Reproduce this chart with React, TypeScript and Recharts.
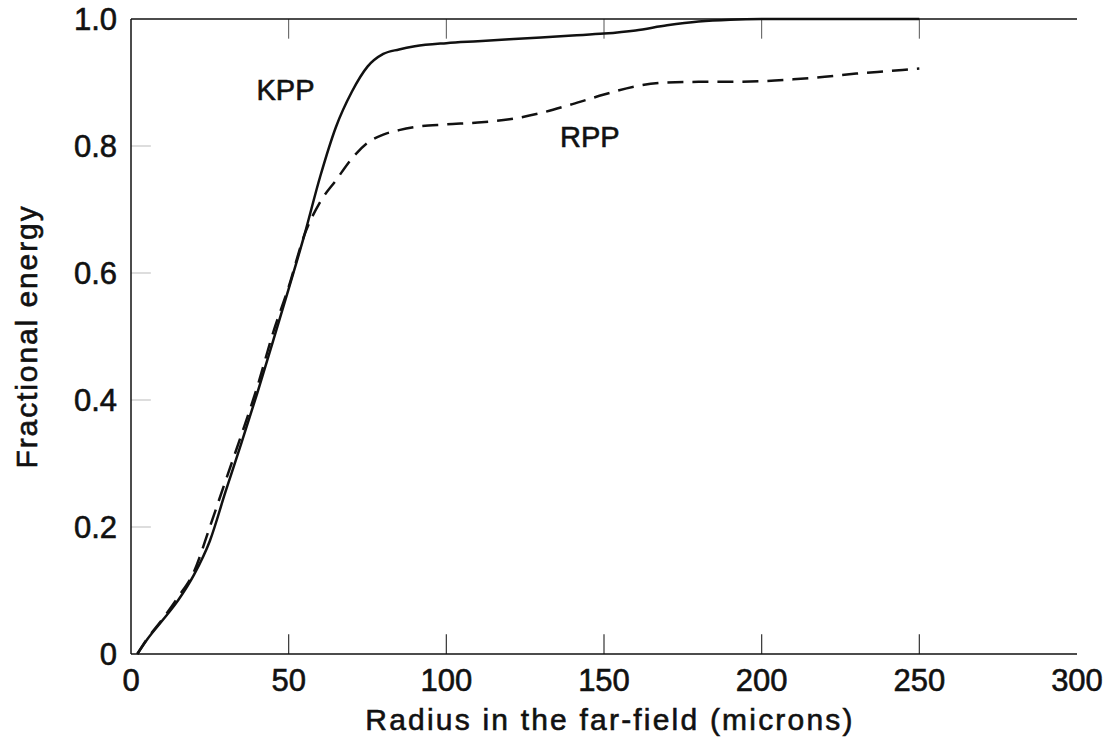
import React from 'react';
import { LineChart, Line, XAxis, YAxis, ReferenceDot, ReferenceLine } from 'recharts';

// radius in microns, shared by both curves
const radius = [2, 5, 10, 15, 20, 25, 30, 35, 40, 45, 50, 55, 60, 65, 70, 75, 80, 85, 90, 100, 110, 120, 130, 140, 150, 160, 170, 180, 190, 200, 210, 220, 230, 240, 250];
const kpp = [0, 0.022, 0.053, 0.085, 0.125, 0.178, 0.256, 0.332, 0.41, 0.492, 0.575, 0.66, 0.752, 0.83, 0.885, 0.925, 0.945, 0.952, 0.957, 0.962, 0.965, 0.968, 0.971, 0.974, 0.977, 0.982, 0.99, 0.996, 0.999, 1.0, 1.0, 1.0, 1.0, 1.0, 1.0];
const rpp = [0, 0.023, 0.055, 0.09, 0.13, 0.2, 0.273, 0.345, 0.42, 0.505, 0.578, 0.66, 0.712, 0.746, 0.78, 0.805, 0.818, 0.825, 0.83, 0.834, 0.837, 0.842, 0.852, 0.866, 0.881, 0.894, 0.9, 0.901, 0.901, 0.902, 0.905, 0.909, 0.914, 0.918, 0.922];

const xTicks = [0, 50, 100, 150, 200, 250, 300];
const yTicks = [0, 0.2, 0.4, 0.6, 0.8, 1.0];

// curve labels, placed in data coordinates
const kppLabel = { x: 49, y: 0.888, text: 'KPP' };
const rppLabel = { x: 145.5, y: 0.814, text: 'RPP' };

const data = radius.map((r, i) => ({ r, kpp: kpp[i], rpp: rpp[i] }));

const FONT = '"Liberation Sans", Arial, Helvetica, sans-serif';
const INK = '#111';
// inward tick lengths, in data units (~20px)
const X_TICK_LEN = 0.031;
const Y_TICK_LEN = 6.3;

const textProps = { fontFamily: FONT, fill: INK, stroke: INK, strokeWidth: 0.6 };

const BottomTick = (props: any) => {
  const { x, y, payload } = props;
  return (
    <text x={x} y={y + 37} textAnchor="middle" fontSize={31} {...textProps}>
      {payload.value}
    </text>
  );
};

const LeftTick = (props: any) => {
  const { x, y, payload } = props;
  const v = payload.value;
  return (
    <text x={x - 14} y={y + 11} textAnchor="end" fontSize={31} {...textProps}>
      {v === 0 ? '0' : v.toFixed(1)}
    </text>
  );
};

const XTitle = (props: any) => {
  const vb = props.viewBox;
  return (
    <text x={vb.x + vb.width / 2 + 6} y={730} textAnchor="middle" fontSize={30} letterSpacing={2.2} {...textProps}>
      Radius in the far-field (microns)
    </text>
  );
};

const YTitle = (props: any) => {
  const vb = props.viewBox;
  const x = vb.x - 14;
  const y = vb.y + vb.height / 2;
  return (
    <text x={x} y={y} transform={`rotate(-90, ${x}, ${y})`} textAnchor="middle" fontSize={30} letterSpacing={1.9} {...textProps}>
      Fractional energy
    </text>
  );
};

const innerX = xTicks.slice(1, -1);
const innerY = yTicks.slice(1, -1);

export default function App() {
  return (
    <div style={{ position: 'absolute', left: 0, top: 0, width: 1113, height: 738, background: '#fff' }}>
      <LineChart width={1113} height={738} data={data} margin={{ top: 18, right: 36, bottom: 0, left: 51 }}>
        <XAxis
          dataKey="r"
          type="number"
          domain={[0, 300]}
          ticks={xTicks}
          height={84}
          tickSize={0}
          tickMargin={0}
          tickLine={false}
          tick={<BottomTick />}
          axisLine={{ stroke: INK, strokeWidth: 1.6 }}
          label={<XTitle />}
        />
        <XAxis
          xAxisId="top"
          orientation="top"
          dataKey="r"
          type="number"
          domain={[0, 300]}
          ticks={xTicks}
          height={1}
          tick={false}
          tickLine={false}
          axisLine={{ stroke: INK, strokeWidth: 1.4 }}
        />
        <YAxis
          type="number"
          domain={[0, 1]}
          ticks={yTicks}
          width={80}
          tickSize={0}
          tickMargin={0}
          tickLine={false}
          tick={<LeftTick />}
          axisLine={{ stroke: INK, strokeWidth: 1.5 }}
          label={<YTitle />}
        />
        <YAxis
          yAxisId="right"
          orientation="right"
          type="number"
          domain={[0, 1]}
          ticks={yTicks}
          width={0}
          tick={false}
          tickLine={false}
          axisLine={{ stroke: INK, strokeWidth: 1.6 }}
        />
        {innerX.map((t) => (
          <ReferenceLine
            key={`b${t}`}
            segment={[{ x: t, y: 0 }, { x: t, y: X_TICK_LEN }]}
            stroke="#333"
            strokeWidth={1.2}
          />
        ))}
        {innerX.map((t) => (
          <ReferenceLine
            key={`t${t}`}
            segment={[{ x: t, y: 1 }, { x: t, y: 1 - X_TICK_LEN }]}
            stroke="#555"
            strokeWidth={1}
          />
        ))}
        {innerY.map((t) => (
          <ReferenceLine
            key={`l${t}`}
            segment={[{ x: 0, y: t }, { x: Y_TICK_LEN, y: t }]}
            stroke="#bbb"
            strokeWidth={1}
          />
        ))}
        <Line
          type="monotone"
          dataKey="kpp"
          stroke={INK}
          strokeWidth={2.5}
          dot={false}
          activeDot={false}
          isAnimationActive={false}
        />
        <Line
          type="monotone"
          dataKey="rpp"
          stroke={INK}
          strokeWidth={2.5}
          strokeDasharray="16 9"
          dot={false}
          activeDot={false}
          isAnimationActive={false}
        />
        {[kppLabel, rppLabel].map((l) => (
          <ReferenceDot
            key={l.text}
            x={l.x}
            y={l.y}
            r={0}
            stroke="none"
            fill="none"
            label={{ value: l.text, position: 'center', fontSize: 29, ...textProps }}
          />
        ))}
      </LineChart>
    </div>
  );
}
